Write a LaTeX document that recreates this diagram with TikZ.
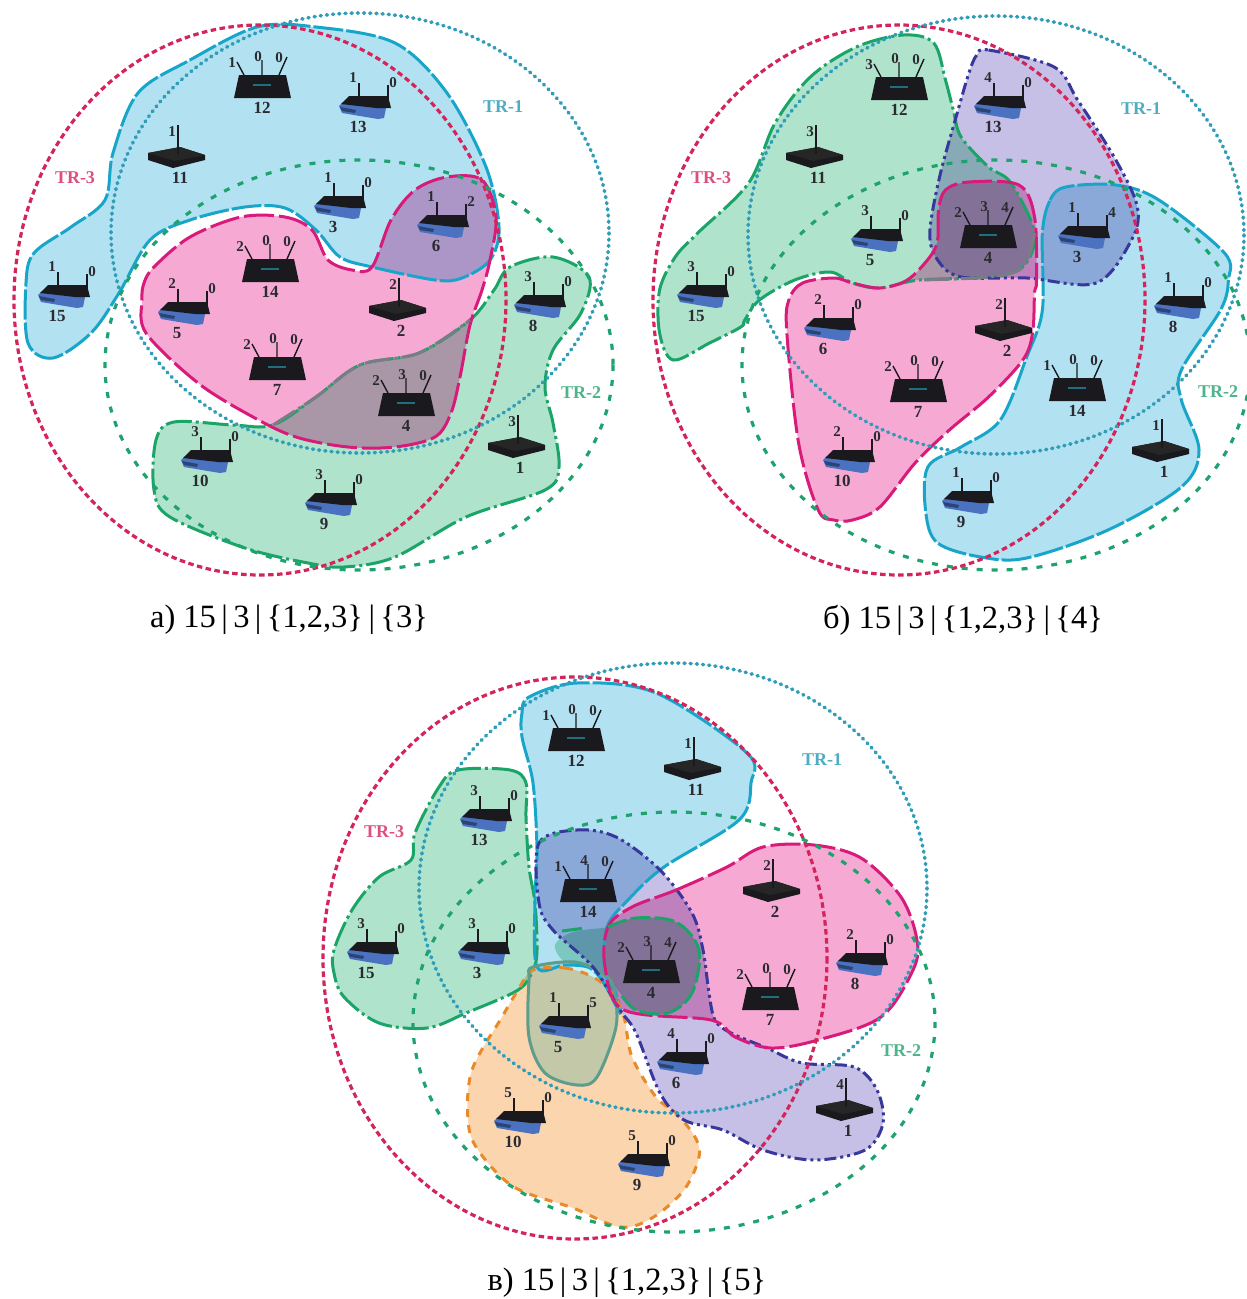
\documentclass[tikz,border=0pt]{standalone}
\usepackage{fontspec}
\setmainfont{Liberation Serif}
\definecolor{tra}{HTML}{D4245A}
\definecolor{trb}{HTML}{2F9DB8}
\definecolor{trc}{HTML}{1FA36E}
\definecolor{fblue}{HTML}{B2E1F1}
\definecolor{sblue}{HTML}{17A5C9}
\definecolor{fgreen}{HTML}{B0E3CB}
\definecolor{sgreen}{HTML}{1AA468}
\definecolor{fpink}{HTML}{F6AAD3}
\definecolor{spink}{HTML}{D81B7A}
\definecolor{flav}{HTML}{C6C0E6}
\definecolor{snavy}{HTML}{37379C}
\definecolor{forange}{HTML}{FBD5AE}
\definecolor{sorange}{HTML}{E88A2A}
\definecolor{folive}{HTML}{C7F0F7}
\definecolor{solive}{HTML}{5E9C8C}
\definecolor{rtblue}{HTML}{4A72C0}
\definecolor{rtdark}{HTML}{1A1A1E}
\definecolor{txt}{HTML}{2A2A30}
\definecolor{sgray}{HTML}{7C7C86}
\tikzset{
 x=1pt,y=-1pt,
 ringred/.style={draw=tra,line width=3.2pt,dash pattern=on 5.5pt off 3.5pt},
 ringblue/.style={draw=trb,line width=3.6pt,line cap=round,dash pattern=on 1pt off 5.2pt},
 ringgreen/.style={draw=trc,line width=3.2pt,dash pattern=on 6pt off 9pt},
 rgblue/.style={draw=sblue,fill=fblue,line width=3pt,dash pattern=on 30pt off 3pt},
 rggreen/.style={draw=sgreen,fill=fgreen,line width=3pt,dash pattern=on 26pt off 4pt on 3pt off 4pt},
 rgpink/.style={draw=spink,fill=fpink,line width=3pt,dash pattern=on 30pt off 5pt},
 rgnavy/.style={draw=snavy,fill=flav,line width=3pt,dash pattern=on 12pt off 4pt on 3pt off 4pt on 3pt off 4pt},
 rgorange/.style={draw=sorange,fill=forange,line width=3pt,dash pattern=on 8pt off 8pt},
 rgolive/.style={draw=solive,fill=folive,line width=3pt},
 rgfillonly/.style={fill=fgreen},
 fillpass/.style={blobpass/.style={draw=none}},
 strokepass/.style={blobpass/.style={fill=none}},
 seamgray/.style={draw=sgray,line width=3pt,dash pattern=on 26pt off 4pt on 3pt off 4pt},
 seamgreen/.style={draw=sgreen,line width=3pt,dash pattern=on 20pt off 4pt},
 trlabel/.style={font=\fontsize{18}{18}\selectfont\bfseries,inner sep=0pt},
 numlabel/.style={font=\fontsize{17}{17}\selectfont\bfseries,text=txt,inner sep=0pt},
 antlabel/.style={font=\fontsize{15}{15}\selectfont\bfseries,text=txt,inner sep=0pt},
 caplabel/.style={font=\fontsize{32.5}{32.5}\selectfont,text=black,inner sep=0pt},
}
% x y number left right
\newcommand\rtB[5]{\begin{scope}[shift={(#1,#2)}]
 \fill[rtblue] (-19,-21)--(-16,-14)--(20,-8)--(26,-9)--(28,-19)--(10,-22)--(-15,-25)--cycle;
 \fill[rtblue!60!black] (-18,-20)--(-2,-17)--(-3,-14)--(-16,-16)--cycle;
 \fill[rtdark] (-9,-31)--(30,-31)--(33,-19)--(18,-19)--(-17,-23)--cycle;
 \draw[rtdark,line width=1.4pt] (1,-44)--(1,-30) (30,-42)--(30,-20);
 \node[antlabel] at (-5,-49) {#4};
 \node[antlabel] at (35,-44) {#5};
 \node[numlabel] at (0,0) {#3};
\end{scope}}
\newcommand\rtK[4]{\begin{scope}[shift={(#1,#2)}]
 \fill[rtdark] (-32,-25)--(0,-31)--(25,-23)--(25,-18)--(-7,-10)--(-32,-18)--cycle;
 \fill[black!85] (-32,-25)--(0,-31)--(25,-23)--(-5,-17)--cycle;
 \draw[rtdark,line width=1.4pt] (-2,-53)--(-2,-24);
 \node[antlabel] at (-8,-46) {#4};
 \node[numlabel] at (0,0) {#3};
\end{scope}}
\newcommand\rtT[6]{\begin{scope}[shift={(#1,#2)}]
 \fill[rtdark] (-23,-33)--(24,-33)--(29,-10)--(-28,-10)--cycle;
 \fill[trb!70!black] (-9,-24) rectangle (9,-22);
 \draw[rtdark,line width=1.4pt] (-18,-33)--(-25,-46) (0,-33)--(0,-48) (17,-33)--(25,-51);
 \node[antlabel] at (-30,-45) {#4};
 \node[antlabel] at (-4,-51) {#5};
 \node[antlabel] at (17,-50) {#6};
 \node[numlabel] at (0,0) {#3};
\end{scope}}
\newcommand\blob[2]{\path[#1,blobpass] plot[smooth cycle,tension=.55] coordinates {#2};}
\newcommand\regionsA{%
\blob{rggreen}{(510,267)(553,257)(589,277)(581,313)(553,350)(545,387)(553,423)(559,467)(545,490)(466,517)(395,557)(344,567)(308,563)(245,548)(170,517)(154,490)(156,440)(174,422)(233,425)(273,425)(316,397)(360,365)(419,353)(470,320)(494,290)}
\blob{rgblue}{(26,283)(34,253)(71,227)(105,200)(113,153)(138,93)(190,60)(257,27)(316,27)(395,43)(447,93)(486,167)(499,227)(490,260)(462,278)(435,280)(372,267)(340,257)(316,230)(285,208)(245,207)(190,220)(150,240)(119,293)(91,333)(53,358)(28,343)}
\blob{rgpink}{(144,283)(154,267)(190,237)(241,217)(285,217)(312,230)(328,260)(352,270)(372,267)(391,220)(415,190)(447,177)(482,180)(496,217)(490,260)(482,290)(470,325)(460,377)(451,413)(435,437)(395,447)(348,447)(296,437)(253,417)(198,383)(146,333)(142,300)}
}
\newcommand\regionsB{%
\blob{rggreen}{(674,360)(660,333)(660,290)(676,257)(699,233)(751,183)(778,123)(814,77)(861,47)(909,35)(940,43)(952,80)(960,110)(968,137)(996,167)(1019,183)(1043,233)(1031,267)(996,277)(925,280)(885,288)(857,283)(834,272)(798,280)(762,300)(747,320)(743,327)(711,343)}
\blob{rgblue}{(1051,233)(1059,200)(1075,187)(1126,185)(1170,200)(1237,253)(1241,280)(1233,310)(1193,370)(1193,400)(1211,450)(1193,487)(1118,530)(1035,558)(988,557)(944,543)(932,513)(934,467)(968,447)(1008,420)(1035,357)(1051,310)}
\blob{rgnavy}{(984,55)(996,50)(1063,67)(1087,100)(1126,160)(1148,207)(1142,240)(1106,283)(1035,278)(968,277)(944,260)(936,233)(946,177)(964,113)(976,73)}
\blob{rgpink}{(936,257)(944,240)(945,210)(952,190)(976,182)(1027,185)(1043,217)(1045,280)(1043,293)(1041,333)(1031,360)(996,397)(956,430)(921,463)(885,507)(857,520)(838,520)(822,510)(802,443)(790,333)(792,300)(806,283)(838,278)(857,283)(885,288)(913,280)}
}
\newcommand\regionsC{%
\blob{rggreen}{(458,770)(510,770)(526,783)(526,817)(529,867)(535,903)(537,950)(533,970)(518,990)(466,1013)(427,1028)(379,1023)(344,997)(334,973)(334,950)(352,910)(379,877)(411,860)(415,833)(439,787)}
\blob{rgfillonly}{(573,932)(608,927)(636,918)(676,922)(699,950)(692,993)(668,1013)(636,1010)(620,993)(605,975)(590,966)(565,962)(555,945)}
\blob{rgblue}{(522,713)(529,697)(577,683)(656,693)(747,753)(751,783)(739,820)(664,867)(628,900)(607,927)(605,970)(616,993)(620,1013)(605,985)(590,968)(565,965)(537,967)(535,900)(537,850)(533,783)(522,737)}
\blob{rgorange}{(533,970)(565,968)(593,977)(612,993)(624,1017)(632,1057)(656,1097)(676,1113)(695,1137)(699,1157)(684,1190)(652,1218)(620,1227)(573,1208)(514,1187)(478,1150)(468,1120)(472,1070)(502,1017)(518,990)}
\blob{rgolive}{(529,980)(533,967)(575,962)(605,975)(614,990)(616,1027)(597,1077)(577,1085)(545,1073)(529,1037)}
\blob{rgnavy}{(539,843)(577,830)(616,837)(660,870)(692,913)(703,950)(709,993)(715,1020)(731,1033)(767,1048)(802,1063)(854,1067)(877,1090)(883,1123)(865,1150)(814,1160)(763,1150)(723,1130)(684,1120)(660,1093)(636,1033)(620,1010)(593,967)(553,930)(539,903)}
\blob{rgpink}{(632,907)(676,890)(727,867)(763,847)(814,845)(861,858)(901,897)(917,940)(913,970)(881,1017)(818,1040)(771,1048)(735,1037)(711,1020)(624,1010)(605,967)(608,927)}
}
\begin{document}
\begin{tikzpicture}
\useasboundingbox (0,0) rectangle (1247,1299);
\clip (0,0) rectangle (1247,1299);
\fill[white] (0,0) rectangle (1247,1299);
% ===== panel a
\begin{scope}[blend mode=multiply,fillpass]\regionsA\end{scope}
\begin{scope}[strokepass]\regionsA\end{scope}
\draw[seamgray] plot[smooth,tension=.55] coordinates {(273,425)(316,397)(360,365)(419,353)(470,320)};
\draw[ringred] (260,300) ellipse [x radius=246,y radius=275];
\draw[ringblue] (360,233) ellipse [x radius=249,y radius=220];
\draw[ringgreen] (359,365) ellipse [x radius=254,y radius=205];
% ===== panel b
\begin{scope}[blend mode=multiply,xshift=13.44pt,xscale=.979,fillpass]\regionsB\end{scope}
\begin{scope}[xshift=13.44pt,xscale=.979,strokepass]\regionsB
\draw[seamgray] plot[smooth,tension=.55] coordinates {(1043,233)(1031,267)(996,277)(925,280)};
\end{scope}
\draw[ringred] (899,300) ellipse [x radius=246,y radius=275];
\draw[ringblue] (996,235) ellipse [x radius=248,y radius=219];
\draw[ringgreen] (996,365) ellipse [x radius=254,y radius=205];
% ===== panel c
\begin{scope}[blend mode=multiply,fillpass]\regionsC\end{scope}
\begin{scope}[strokepass]\regionsC\end{scope}
\draw[seamgreen] plot[smooth,tension=.55] coordinates {(608,927)(636,918)(676,922)(699,950)(692,993)(668,1013)(636,1010)(620,993)};
\draw[seamgreen] (562,931) -- (585,928);
\draw[ringred] (575,958) ellipse [x radius=252,y radius=281];
\draw[ringblue] (673,888) ellipse [x radius=254,y radius=225];
\draw[ringgreen] (674,1022) ellipse [x radius=261,y radius=210];
% ===== routers a
\rtT{262}{108}{12}{1}{0}{0}
\rtB{358}{127}{13}{1}{0}
\rtK{180}{178}{11}{1}
\rtB{333}{227}{3}{1}{0}
\rtB{436}{246}{6}{1}{2}
\rtT{270}{292}{14}{2}{0}{0}
\rtB{57}{316}{15}{1}{0}
\rtB{177}{333}{5}{2}{0}
\rtK{401}{331}{2}{2}
\rtB{533}{326}{8}{3}{0}
\rtT{277}{390}{7}{2}{0}{0}
\rtT{406}{426}{4}{2}{3}{0}
\rtB{200}{481}{10}{3}{0}
\rtB{324}{524}{9}{3}{0}
\rtK{520}{468}{1}{3}
% ===== routers b
\rtT{899}{110}{12}{3}{0}{0}
\rtB{993}{127}{13}{4}{0}
\rtK{818}{178}{11}{3}
\rtB{870}{260}{5}{3}{0}
\rtT{988}{258}{4}{2}{3}{4}
\rtB{1077}{257}{3}{1}{4}
\rtB{696}{316}{15}{3}{0}
\rtB{1173}{327}{8}{1}{0}
\rtB{823}{349}{6}{2}{0}
\rtK{1007}{351}{2}{2}
\rtT{918}{412}{7}{2}{0}{0}
\rtT{1077}{411}{14}{1}{0}{0}
\rtB{842}{481}{10}{2}{0}
\rtK{1164}{472}{1}{1}
\rtB{961}{522}{9}{1}{0}
% ===== routers c
\rtT{576}{761}{12}{1}{0}{0}
\rtK{696}{790}{11}{1}
\rtB{479}{840}{13}{3}{0}
\rtT{588}{912}{14}{1}{4}{0}
\rtK{775}{912}{2}{2}
\rtB{366}{973}{15}{3}{0}
\rtB{477}{973}{3}{3}{0}
\rtT{651}{993}{4}{2}{3}{4}
\rtB{855}{984}{8}{2}{0}
\rtB{558}{1047}{5}{1}{5}
\rtT{770}{1020}{7}{2}{0}{0}
\rtB{676}{1083}{6}{4}{0}
\rtK{848}{1131}{1}{4}
\rtB{513}{1142}{10}{5}{0}
\rtB{637}{1185}{9}{5}{0}
% ===== labels
\node[trlabel,text=trb!85!white] (la1) at (503,107) {TR-1};
\node[trlabel,text=tra!80!white] (la3) at (75,178) {TR-3};
\node[trlabel,text=trc!80!white] (la2) at (581,393) {TR-2};
\node[trlabel,text=trb!85!white] (lb1) at (1141,109) {TR-1};
\node[trlabel,text=tra!80!white] (lb3) at (711,178) {TR-3};
\node[trlabel,text=trc!80!white] (lb2) at (1218,392) {TR-2};
\node[trlabel,text=trb!85!white] (lc1) at (822,760) {TR-1};
\node[trlabel,text=tra!80!white] (lc3) at (384,832) {TR-3};
\node[trlabel,text=trc!80!white] (lc2) at (901,1051) {TR-2};
\node[caplabel] (capa) at (289,620) {а) 15\,|\,3\,|\,\{1,2,3\}\,|\,\{3\}};
\node[caplabel] (capb) at (963,620) {б) 15\,|\,3\,|\,\{1,2,3\}\,|\,\{4\}};
\node[caplabel] (capc) at (627,1283) {в) 15\,|\,3\,|\,\{1,2,3\}\,|\,\{5\}};
\end{tikzpicture}
\end{document}
